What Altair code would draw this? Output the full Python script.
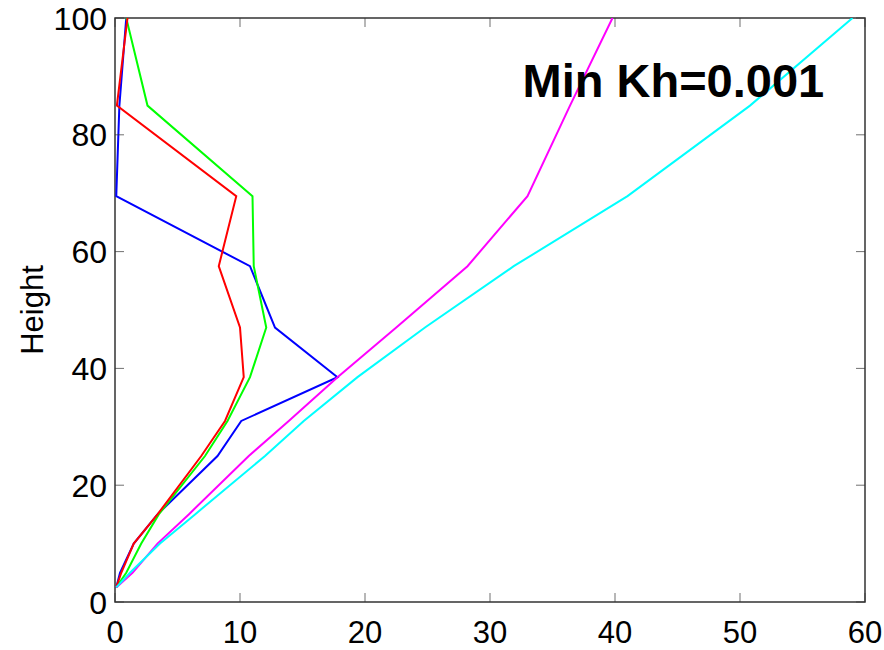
import altair as alt
import pandas as pd

# Heights of model levels
heights = [2.5, 5, 10, 15, 25, 31, 38.5, 47, 57.5, 69.5, 85, 100]

# Profiles (x values at each height)
blue = [0.1, 0.4, 1.5, 3.4, 8.2, 10.1, 17.8, 12.8, 10.8, 0.1, 0.35, 0.9]
green = [0.1, 0.9, 2.1, 3.5, 7.2, 9.0, 10.8, 12.1, 11.1, 11.0, 2.6, 0.9]
red = [0.1, 0.5, 1.5, 3.4, 6.9, 8.8, 10.3, 10.0, 8.3, 9.7, 0.15, 1.0]
magenta = [0.1, 1.4, 3.4, 5.9, 10.7, 13.9, 17.8, 22.5, 28.2, 33.0, 36.4, 39.8]
cyan = [0.1, 1.2, 3.6, 6.4, 12.0, 15.1, 19.4, 24.8, 31.9, 41.0, 50.8, 59.0]

series_names = ["blue", "green", "red", "magenta", "cyan"]
series_values = [blue, green, red, magenta, cyan]
series_colors = ["#0000ff", "#00ff00", "#ff0000", "#ff00ff", "#00ffff"]

x_ticks = [0, 10, 20, 30, 40, 50, 60]
y_ticks = [0, 20, 40, 60, 80, 100]
x_tick_labels = ["0", "10", "20", "30", "40", "50", "60"]
y_tick_labels = ["0", "20", "40", "60", "80", "100"]
y_title = "Height"

annotation = "Min Kh=0.001"
annotation_x = [32.6]
annotation_y = [86.5]

rows = []
for name, vals in zip(series_names, series_values):
    for i, (h, v) in enumerate(zip(heights, vals)):
        rows.append({"series": name, "val": v, "hgt": h, "idx": i})
df = pd.DataFrame(rows)

W, H = 750, 584
FONT = "Liberation Sans"
FRAME = "#333333"
LABEL_SIZE = 32

xscale = alt.Scale(domain=[0, 60], nice=False, zero=False)
yscale = alt.Scale(domain=[0, 100], nice=False, zero=False)

color_scale = alt.Scale(domain=series_names, range=series_colors)

lines = alt.Chart(df).mark_line(strokeWidth=2, clip=True).encode(
    x=alt.X("val:Q", scale=xscale, axis=None),
    y=alt.Y("hgt:Q", scale=yscale, axis=None),
    color=alt.Color("series:N", scale=color_scale, legend=None, sort=series_names),
    order="idx:O",
)

xt = pd.DataFrame({"v": x_ticks, "lab": x_tick_labels})
yt = pd.DataFrame({"v": y_ticks, "lab": y_tick_labels})
tick_len = 9

bottom_ticks = alt.Chart(xt).mark_tick(color=FRAME, size=tick_len, thickness=1, orient="vertical").encode(
    x=alt.X("v:Q", scale=xscale, axis=None), y=alt.value(H - tick_len / 2))
top_ticks = alt.Chart(xt).mark_tick(color=FRAME, size=tick_len, thickness=1, orient="vertical").encode(
    x=alt.X("v:Q", scale=xscale, axis=None), y=alt.value(tick_len / 2))
left_ticks = alt.Chart(yt).mark_tick(color=FRAME, size=tick_len, thickness=1, orient="horizontal").encode(
    y=alt.Y("v:Q", scale=yscale, axis=None), x=alt.value(tick_len / 2))
right_ticks = alt.Chart(yt).mark_tick(color=FRAME, size=tick_len, thickness=1, orient="horizontal").encode(
    y=alt.Y("v:Q", scale=yscale, axis=None), x=alt.value(W - tick_len / 2))

x_labels = alt.Chart(xt).mark_text(
    align="center", baseline="alphabetic", fontSize=31, font=FONT, color="black"
).encode(x=alt.X("v:Q", scale=xscale, axis=None), y=alt.value(H + 41), text="lab:N")

y_labels = alt.Chart(yt).mark_text(
    align="right", baseline="alphabetic", fontSize=LABEL_SIZE, font=FONT, color="black", dy=11.5
).encode(y=alt.Y("v:Q", scale=yscale, axis=None), x=alt.value(-8), text="lab:N")

title = alt.Chart(pd.DataFrame({"t": [y_title]})).mark_text(
    align="center", baseline="alphabetic", fontSize=31, font=FONT, color="black", angle=270
).encode(x=alt.value(-72), y=alt.value(H / 2), text="t:N")

text = alt.Chart(pd.DataFrame({"ax": annotation_x, "ay": annotation_y, "t": [annotation]})).mark_text(
    align="left", baseline="alphabetic", fontSize=47, fontWeight="bold", font=FONT, color="black"
).encode(x=alt.X("ax:Q", scale=xscale, axis=None), y=alt.Y("ay:Q", scale=yscale, axis=None), text="t:N")

chart = alt.layer(lines, bottom_ticks, top_ticks, left_ticks, right_ticks,
                  x_labels, y_labels, title, text).properties(
    width=W, height=H,
    autosize=alt.AutoSizeParams(type="none"),
    padding={"left": 115, "top": 18, "right": 19, "bottom": 48},
    background="white",
).configure_view(stroke=FRAME, strokeWidth=1.5)

chart.save("out.html", embed_options={"renderer": "svg", "actions": False})
